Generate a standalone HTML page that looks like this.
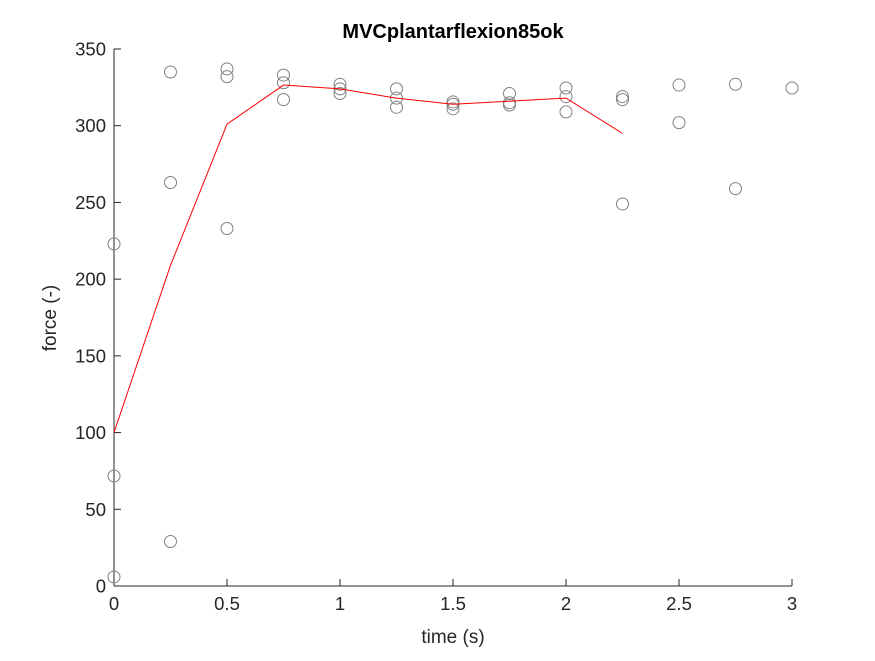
<!DOCTYPE html>
<html><head><meta charset="utf-8"><style>
body{margin:0;background:#fff}
svg text{font-family:"Liberation Sans",sans-serif;fill:#262626}
</style></head><body>
<svg id="c" width="875" height="656" viewBox="0 0 875 656">
<rect width="875" height="656" fill="#fff"/>
<text x="453" y="38" text-anchor="middle" font-size="20" font-weight="bold" style="fill:#000">MVCplantarflexion85ok</text>
<text x="453" y="643" text-anchor="middle" font-size="19">time (s)</text>
<text transform="translate(56,318) rotate(-90)" text-anchor="middle" font-size="19">force (-)</text>
<g id="axes"></g><g id="marks"></g>
</svg>
<script>
const xTicks=[0,0.5,1,1.5,2,2.5,3];
const xTickLabels=["0","0.5","1","1.5","2","2.5","3"];
const yTicks=[0,50,100,150,200,250,300,350];
const yTickLabels=["0","50","100","150","200","250","300","350"];
const scatterX=[0,0,0,0.25,0.25,0.25,0.5,0.5,0.5,0.75,0.75,0.75,1,1,1,1.25,1.25,1.25,1.5,1.5,1.5,1.75,1.75,1.75,2,2,2,2.25,2.25,2.25,2.5,2.5,2.75,2.75,3];
const scatterY=[223,71.7,5.9,335,263,29,337,332,233,333,328,317,327,324,321,324,318,312,315.5,314,311,321,315,313.5,324.6,319,309,319,317,249,326.5,302,327,259,324.6];
const lineX=[0,0.25,0.5,0.75,1,1.25,1.5,1.75,2,2.25];
const lineY=[100,209,301,326.5,324,318,314,316,318,295];
const NS="http://www.w3.org/2000/svg";
const x0=114,x1=792,y0=586,y1=49;
const sx=v=>x0+(v-0)/(3-0)*(x1-x0);
const sy=v=>y0-(v-0)/(350-0)*(y0-y1);
const axes=document.getElementById('axes'),marks=document.getElementById('marks');
function mk(tag,attrs,parent){const e=document.createElementNS(NS,tag);for(const k in attrs)e.setAttribute(k,attrs[k]);parent.appendChild(e);return e;}
let a=mk('line',{x1:x0,y1:y0,x2:x1,y2:y0,stroke:'#262626','stroke-width':1},axes);


a=mk('line',{x1:x0,y1:y0,x2:x0,y2:y1,stroke:'#262626','stroke-width':1},axes);


xTicks.forEach((t,i)=>{const X=sx(t);
 mk('line',{x1:X,y1:y0,x2:X,y2:y0-7,stroke:'#262626'},axes);
 const tx=mk('text',{x:X,y:y0+24,'text-anchor':'middle','font-size':18.5},axes);tx.textContent=xTickLabels[i];
 
 });
yTicks.forEach((t,i)=>{const Y=sy(t);
 mk('line',{x1:x0,y1:Y,x2:x0+7,y2:Y,stroke:'#262626'},axes);
 const tx=mk('text',{x:x0-8,y:Y+6.5,'text-anchor':'end','font-size':18.5},axes);tx.textContent=yTickLabels[i];
 
 });
scatterX.forEach((v,i)=>{const c=mk('circle',{cx:sx(v),cy:sy(scatterY[i]),r:6,fill:'none',stroke:'#808080','stroke-width':1},marks);
 
 });
const p=mk('polyline',{points:lineX.map((v,i)=>sx(v)+','+sy(lineY[i])).join(' '),fill:'none',stroke:'#ff0000','stroke-width':1},marks);


</script>
</body></html>
